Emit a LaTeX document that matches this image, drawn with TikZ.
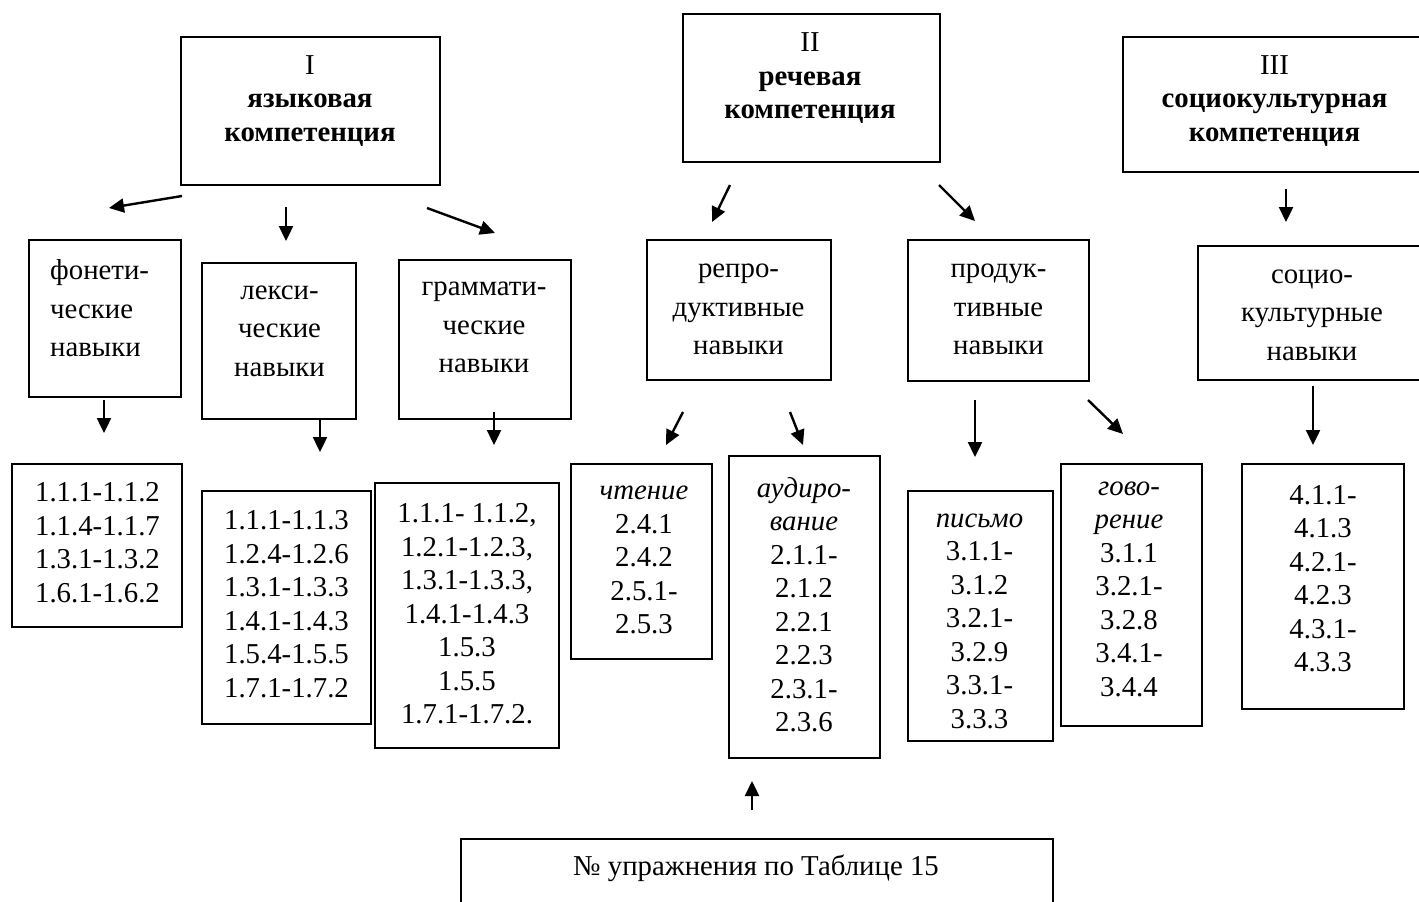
\documentclass[tikz,border=0pt]{standalone}
\usepackage{fontspec}
\setmainfont{Liberation Serif}
\usetikzlibrary{arrows.meta}

\tikzset{
  box/.style={draw, line width=2pt, inner sep=0pt},
  txt/.style={align=center, inner sep=0pt, font=\fontsize{28.8}{33.5}\selectfont},
  skill/.style={align=center, inner sep=0pt, font=\fontsize{28.8}{38.5}\selectfont},
  arr/.style={line width=2.4pt, -{Triangle[length=15pt,width=14pt]}}
}

\begin{document}
\begin{tikzpicture}[x=1pt,y=-1pt]
		\useasboundingbox (0,0) rectangle (1419,902);
		% competences
		\node[box, minimum width=259, minimum height=148] (lang) at (310.5,111) {};
		\node[txt] (langT) at (310,101) {I\\\textbf{языковая}\\\textbf{компетенция}};
		\node[box, minimum width=257.5, minimum height=148] (speech) at (811.25,88) {};
		\node[txt] (speechT) at (810,78.5) {II\\\textbf{речевая}\\\textbf{компетенция}};
		\node[box, minimum width=303, minimum height=135] (socio) at (1274.5,104.5) {};
		\node[txt] (socioT) at (1274.5,101) {III\\\textbf{социокультурная}\\\textbf{компетенция}};
		% skills
		\node[box, minimum width=152, minimum height=157] (phon) at (105,318.5) {};
		\node[skill, align=left, anchor=west] (phonT) at (50,308.5) {фонети-\\ческие\\навыки};
		\node[box, minimum width=154, minimum height=156] (lex) at (279,341) {};
		\node[skill] (lexT) at (279.5,331) {лекси-\\ческие\\навыки};
		\node[box, minimum width=172, minimum height=159] (gram) at (485,339.5) {};
		\node[skill] (gramT) at (484,327.5) {граммати-\\ческие\\навыки};
		\node[box, minimum width=184, minimum height=140] (repr) at (739,310) {};
		\node[skill] (reprT) at (738.5,309.5) {репро-\\дуктивные\\навыки};
		\node[box, minimum width=181.5, minimum height=141] (prod) at (998.25,310.5) {};
		\node[skill] (prodT) at (998.5,309.5) {продук-\\тивные\\навыки};
		\node[box, minimum width=228, minimum height=134] (soc) at (1312,313) {};
		\node[skill] (socT) at (1312,315) {социо-\\культурные\\навыки};
		% exercise numbers
		\node[box, minimum width=170, minimum height=163] (phonN) at (97,545.5) {};
		\node[txt] (phonNT) at (97.5,542.5) {1.1.1-1.1.2\\1.1.4-1.1.7\\1.3.1-1.3.2\\1.6.1-1.6.2};
		\node[box, minimum width=169, minimum height=233] (lexN) at (286.5,607.5) {};
		\node[txt] (lexNT) at (286.5,604) {1.1.1-1.1.3\\1.2.4-1.2.6\\1.3.1-1.3.3\\1.4.1-1.4.3\\1.5.4-1.5.5\\1.7.1-1.7.2};
		\node[box, minimum width=184, minimum height=265] (gramN) at (467,615.5) {};
		\node[txt] (gramNT) at (467,614) {1.1.1- 1.1.2,\\1.2.1-1.2.3,\\1.3.1-1.3.3,\\1.4.1-1.4.3\\1.5.3\\1.5.5\\1.7.1-1.7.2.};
		\node[box, minimum width=141, minimum height=195] (read) at (641.5,561.5) {};
		\node[txt] (readT) at (644,560) {\textit{чтение}\\2.4.1\\2.4.2\\2.5.1-\\2.5.3};
		\node[box, minimum width=151, minimum height=302] (listen) at (804.5,607) {};
		\node[txt] (listenT) at (804,604.5) {\textit{аудиро-}\\\textit{вание}\\2.1.1-\\2.1.2\\2.2.1\\2.2.3\\2.3.1-\\2.3.6};
		\node[box, minimum width=145, minimum height=250] (write) at (980.5,616) {};
		\node[txt] (writeT) at (979.5,621) {\textit{письмо}\\3.1.1-\\3.1.2\\3.2.1-\\3.2.9\\3.3.1-\\3.3.3};
		\node[box, minimum width=141, minimum height=262] (speak) at (1131.5,595) {};
		\node[txt] (speakT) at (1129,589) {\textit{гово-}\\\textit{рение}\\3.1.1\\3.2.1-\\3.2.8\\3.4.1-\\3.4.4};
		\node[box, minimum width=162, minimum height=245] (socN) at (1323,586.5) {};
		\node[txt] (socNT) at (1323,578.5) {4.1.1-\\4.1.3\\4.2.1-\\4.2.3\\4.3.1-\\4.3.3};
		% table reference
		\node[box, minimum width=592, minimum height=121] (table) at (757,899.5) {};
		\node[txt] (tableT) at (756,868) {№ упражнения по Таблице 15};
		% arrows (free standing)
		\foreach \n/\xa/\ya/\xb/\yb in {lp/182/196/109/208, ll/286/207/286/241, lg/427/208/495/233,
			sr/730/185/712/222, sp/939/185/975/221, ss/1286/189/1286/222,
			pn/104/400/104/433, ln/320/419/320/452, gn/494/412/494/445,
			rr/683/412/666/445, rl/790/412/803/445, pw/975/400/975/457,
			ps/1088/400/1123/434, sn/1313/386/1313/445, tl/752/810/752/781} {
			\coordinate (\n-s) at (\xa,\ya);
			\coordinate (\n-e) at (\xb,\yb);
			\draw[arr] (\n-s) -- (\n-e);
		}
\end{tikzpicture}
\end{document}
